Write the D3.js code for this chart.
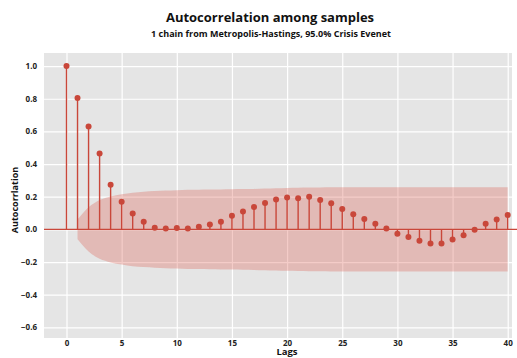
<!DOCTYPE html>
<html><head><meta charset="utf-8">
<script src="https://cdn.jsdelivr.net/npm/d3@7"></script>
<style>body{margin:0;background:#fff;}svg{display:block;font-family:"Open Sans",sans-serif;}</style>
</head><body>
<svg id="c" width="517" height="358"></svg>
<script>
const lags = d3.range(0, 41);
const acfValues = [1.0, 0.805, 0.63, 0.465, 0.273, 0.169, 0.098, 0.047, 0.01, 0.006, 0.008,
  0.006, 0.016, 0.03, 0.047, 0.083, 0.11, 0.137, 0.162, 0.183, 0.196,
  0.19, 0.2, 0.18, 0.16, 0.125, 0.092, 0.063, 0.035, 0.005, -0.026,
  -0.046, -0.07, -0.087, -0.087, -0.062, -0.036, -0.002, 0.035, 0.06, 0.088];
const bandLags = d3.range(1, 41);
const bandHalf = [0.06, 0.135, 0.18, 0.202, 0.215, 0.225, 0.231, 0.235, 0.238, 0.24,
  0.242, 0.243, 0.244, 0.245, 0.246, 0.247, 0.248, 0.25, 0.252, 0.254,
  0.255, 0.256, 0.257, 0.258, 0.258, 0.258, 0.258, 0.258, 0.258, 0.258,
  0.258, 0.258, 0.258, 0.258, 0.258, 0.258, 0.258, 0.258, 0.258, 0.258];
const xTicks = [0, 5, 10, 15, 20, 25, 30, 35, 40];
const yTicks = [-0.6, -0.4, -0.2, 0.0, 0.2, 0.4, 0.6, 0.8, 1.0];

const svg = d3.select("#c");
const L = 44, R = 512, T = 53, B = 338;
const x = d3.scaleLinear().domain([-2.04, 40.39]).range([L, R]);
const y = d3.scaleLinear().domain([-0.665, 1.08]).range([B, T]);
const red = "#c9473a";

svg.append("rect").attr("x", L).attr("y", T).attr("width", R - L).attr("height", B - T).attr("fill", "#e5e5e5");

// grid
svg.append("g").attr("transform", `translate(0,${B})`)
  .call(d3.axisBottom(x).tickValues(xTicks).tickSize(-(B - T)).tickFormat(""))
  .call(g => g.select(".domain").remove())
  .call(g => g.selectAll("line").attr("stroke", "#fff").attr("stroke-width", 1.2));
svg.append("g").attr("transform", `translate(${L},0)`)
  .call(d3.axisLeft(y).tickValues(yTicks).tickSize(-(R - L)).tickFormat(""))
  .call(g => g.select(".domain").remove())
  .call(g => g.selectAll("line").attr("stroke", "#fff").attr("stroke-width", 1.2));

// band
const area = d3.area().x((d, i) => x(bandLags[i]))
  .y0((d) => y(-d)).y1((d) => y(d)).curve(d3.curveMonotoneX);
svg.append("path").datum(bandHalf).attr("d", area).attr("fill", "#d9574a").attr("fill-opacity", 0.3);

// zero line
svg.append("line").attr("x1", L).attr("x2", 517).attr("y1", y(0)).attr("y2", y(0))
  .attr("stroke", red).attr("stroke-width", 1.3);

// stems
svg.append("g").selectAll("line").data(acfValues).join("line")
  .attr("x1", (d, i) => x(lags[i])).attr("x2", (d, i) => x(lags[i]))
  .attr("y1", y(0)).attr("y2", d => y(d))
  .attr("stroke", red).attr("stroke-width", 1.4);
svg.append("g").selectAll("circle").data(acfValues).join("circle")
  .attr("cx", (d, i) => x(lags[i])).attr("cy", d => y(d)).attr("r", 3)
  .attr("fill", red);

// tick labels
const xa = svg.append("g").attr("transform", `translate(0,${B})`)
  .call(d3.axisBottom(x).tickValues(xTicks).tickSize(0).tickPadding(2).tickFormat(d3.format("d")));
xa.select(".domain").remove();
xa.selectAll("text").attr("font-size", 8).attr("font-weight", "bold").attr("fill", "#222").attr("font-family", "Open Sans");
const ya = svg.append("g").attr("transform", `translate(37,0)`)
  .call(d3.axisLeft(y).tickValues(yTicks).tickSize(0).tickPadding(0).tickFormat(d3.format(".1f")));
ya.select(".domain").remove();
ya.selectAll("text").attr("font-size", 8).attr("font-weight", "bold").attr("fill", "#222").attr("font-family", "Open Sans");

// titles
svg.append("text").attr("x", 270).attr("y", 22).attr("text-anchor", "middle")
  .attr("font-size", 13).attr("font-weight", "bold").attr("fill", "#111").text("Autocorrelation among samples");
svg.append("text").attr("x", 271).attr("y", 37).attr("text-anchor", "middle")
  .attr("font-size", 9).attr("font-weight", "bold").attr("fill", "#111").text("1 chain from Metropolis-Hastings, 95.0% Crisis Evenet");
svg.append("text").attr("x", 287).attr("y", 355).attr("text-anchor", "middle")
  .attr("font-size", 9.5).attr("font-weight", "bold").attr("fill", "#111").text("Lags");
svg.append("text").attr("transform", "translate(18,200) rotate(-90)").attr("text-anchor", "middle")
  .attr("font-size", 9).attr("font-weight", "bold").attr("fill", "#111").text("Autocorrlation");
</script>
</body></html>
